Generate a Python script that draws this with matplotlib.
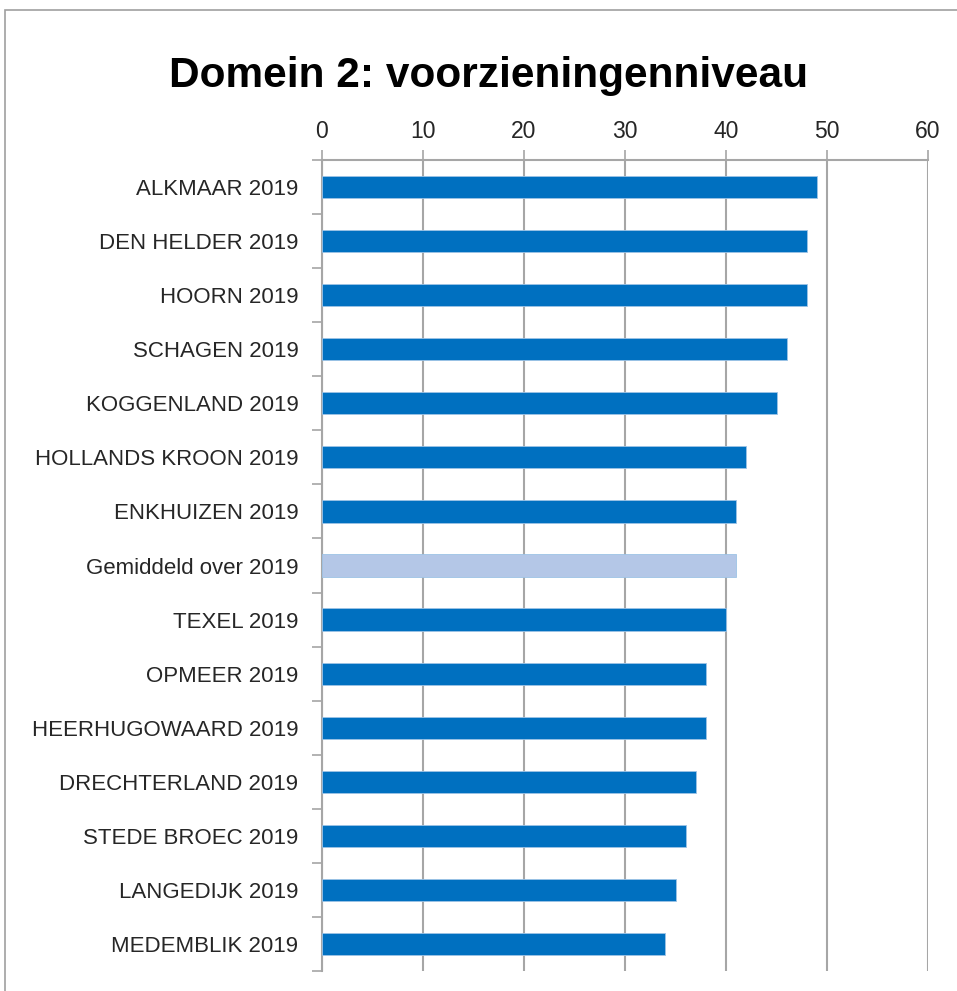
import matplotlib.pyplot as plt
import matplotlib.font_manager as fm
from matplotlib.patches import Rectangle

# === DATA ===
categories = [
    "ALKMAAR 2019", "DEN HELDER 2019", "HOORN 2019", "SCHAGEN 2019",
    "KOGGENLAND 2019", "HOLLANDS KROON 2019", "ENKHUIZEN 2019",
    "Gemiddeld over 2019", "TEXEL 2019", "OPMEER 2019",
    "HEERHUGOWAARD 2019", "DRECHTERLAND 2019", "STEDE BROEC 2019",
    "LANGEDIJK 2019", "MEDEMBLIK 2019",
]
values = [49, 48, 48, 46, 45, 42, 41, 41, 40, 38, 38, 37, 36, 35, 34]
highlight = "Gemiddeld over 2019"
x_ticks = [0, 10, 20, 30, 40, 50, 60]

# === STYLE ===
names = {f.name for f in fm.fontManager.ttflist}
font = "Liberation Sans Narrow" if "Liberation Sans Narrow" in names else "Liberation Sans"
plt.rcParams["font.family"] = [font, "DejaVu Sans"]

main_color = "#0070C0"
avg_color = "#B4C7E7"
grid_color = "#A6A6A6"
text_color = "#262626"

W, H = 957, 991
fig = plt.figure(figsize=(W / 100, H / 100), dpi=100)

# outer chart frame (runs off the right and bottom edges)
fig.patches.append(Rectangle((5 / W, -0.02), 1.0, 1.02 - 10 / H,
                             transform=fig.transFigure, fill=False,
                             edgecolor="#A0A0A0", lw=1.2))

ax = fig.add_axes([322 / W, 1 - 971 / H, (928 - 322) / W, (971 - 160) / H])

ypos = list(range(len(categories)))
colors = [avg_color if c == highlight else main_color for c in categories]
ax.barh(ypos, values, height=0.41, color=colors, edgecolor="#9DC3E6",
        linewidth=0.6, zorder=3)

ax.set_xlim(0, 60)
ax.set_ylim(len(categories) - 0.5, -0.5)

ax.xaxis.tick_top()
ax.set_xticks(x_ticks)
ax.set_xticklabels([str(t) for t in x_ticks], fontsize=16.5, color=text_color)
ax.tick_params(axis="x", direction="out", length=7, color=grid_color,
               width=1.2, pad=5)
ax.grid(axis="x", color=grid_color, lw=1.5, zorder=0)

ax.set_yticks(ypos)
ax.set_yticklabels(categories, fontsize=16, color=text_color)
ax.set_yticks([y - 0.5 for y in range(len(categories) + 1)], minor=True)
ax.tick_params(axis="y", which="major", length=0, pad=17)
ax.tick_params(axis="y", which="minor", direction="out", length=7,
               color=grid_color, width=1.2)

for side in ["right", "bottom"]:
    ax.spines[side].set_visible(False)
for side in ["top", "left"]:
    ax.spines[side].set_color(grid_color)
    ax.spines[side].set_linewidth(1.5)

fig.text(489 / W, 1 - 76 / H, "Domein 2: voorzieningenniveau",
         ha="center", va="center", fontsize=30.5, fontweight="bold", color="black")

fig.savefig("out.png", dpi=100)
